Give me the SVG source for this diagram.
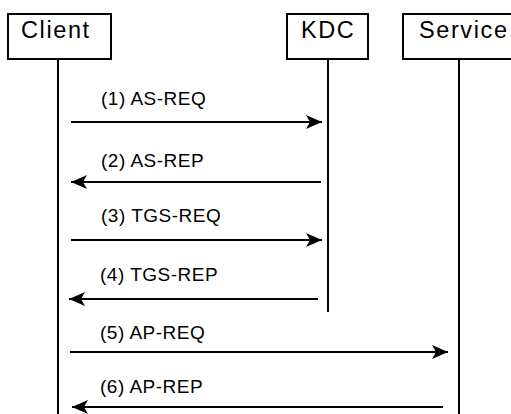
<svg xmlns="http://www.w3.org/2000/svg" width="511" height="414" viewBox="0 0 511 414">
<style>
.box{fill:#fff;stroke:#000;stroke-width:2}
.life{stroke:#000;stroke-width:2;fill:none}
.title{font-family:"Liberation Sans",Arial,sans-serif;font-size:23.5px;letter-spacing:1.6px;fill:#000}
.lbl{font-family:"Liberation Sans",Arial,sans-serif;font-size:19px;letter-spacing:0.5px;fill:#000}
.msg{stroke:#000;stroke-width:2;fill:none;marker-end:url(#ah)}
</style>
<defs>
<marker id="ah" markerUnits="userSpaceOnUse" markerWidth="18" markerHeight="16" refX="16" refY="7" orient="auto" overflow="visible">
<path d="M0,0 L16,7 L0,14 L4,7 z" fill="#000"/>
</marker>
</defs>
<rect width="511" height="414" fill="#fff"/>
<g id="client">
<rect class="box" x="8" y="14" width="103" height="45"/>
<text class="title" x="21" y="38">Client</text>
<line class="life" x1="58" y1="59" x2="58" y2="414"/>
</g>
<g id="kdc">
<rect class="box" x="287" y="14" width="81" height="45"/>
<text class="title" x="301" y="38">KDC</text>
<line class="life" x1="328" y1="59" x2="328" y2="312"/>
</g>
<g id="service">
<rect class="box" x="403" y="14" width="112" height="45"/>
<text class="title" x="419" y="38">Service</text>
<line class="life" x1="459" y1="59" x2="459" y2="414"/>
</g>
<g id="connectors">
<line class="msg" x1="71" y1="122" x2="322" y2="122"/>
<text class="lbl" x="101" y="105">(1) AS-REQ</text>
<line class="msg" x1="321" y1="182" x2="71" y2="182"/>
<text class="lbl" x="101" y="167">(2) AS-REP</text>
<line class="msg" x1="71" y1="240" x2="322" y2="240"/>
<text class="lbl" x="101" y="222">(3) TGS-REQ</text>
<line class="msg" x1="318" y1="299" x2="69" y2="299"/>
<text class="lbl" x="100" y="281">(4) TGS-REP</text>
<line class="msg" x1="70" y1="352" x2="448" y2="352"/>
<text class="lbl" x="100" y="339">(5) AP-REQ</text>
<line class="msg" x1="443" y1="407" x2="72" y2="407"/>
<text class="lbl" x="100" y="393">(6) AP-REP</text>
</g>
</svg>
